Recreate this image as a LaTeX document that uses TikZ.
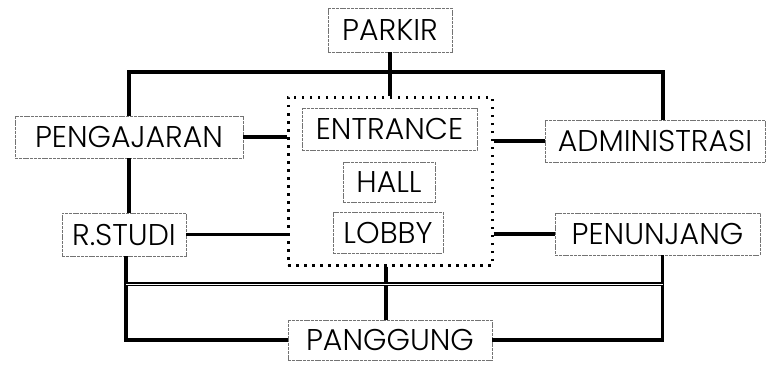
\documentclass[tikz,border=0pt]{standalone}
\usepackage{fontspec}
\setmainfont{Poppins Light}
\usepackage{tikz}
\usetikzlibrary{positioning}

\begin{document}
\begin{tikzpicture}[x=1pt, y=-1pt,
    room/.style={rectangle, draw=black!55, line width=0.7pt, dash pattern=on 3pt off 0.8pt,
        inner sep=0pt, font=\fontsize{30}{30}\selectfont},
    link/.style={line width=3.2pt, black}]
    \useasboundingbox (0,0) rectangle (779,369);
    % inti bangunan
    \node [rectangle, draw, line width=3pt, dash pattern=on 2.5pt off 5.5pt, minimum width=204pt, minimum height=168pt] (core) at (390,181) {};
    \node [room, minimum width=175pt, minimum height=42pt] (entrance) at (389.5,129) {ENTRANCE};
    \node [room, minimum width=92pt, minimum height=40pt] (hall) at (389,182) {HALL};
    \node [room, minimum width=110pt, minimum height=41pt] (lobby) at (388,233) {LOBBY};
    % ruang sekeliling
    \node [room, minimum width=124pt, minimum height=44pt] (parkir) at (390,30) {PARKIR};
    \node [room, minimum width=228pt, minimum height=42pt] (pengajaran) at (129,137) {PENGAJARAN};
    \node [room, minimum width=220pt, minimum height=42pt] (admin) at (655,141) {ADMINISTRASI};
    \node [room, minimum width=124pt, minimum height=43pt] (rstudi) at (124,234.5) {R.STUDI};
    \node [room, minimum width=205pt, minimum height=42pt] (penunjang) at (657.5,234) {PENUNJANG};
    \node [room, minimum width=204pt, minimum height=40pt] (panggung) at (390,340) {PANGGUNG};
    \coordinate (jtop) at (388,72);
    \coordinate (jleft) at (126,284);
    \coordinate (jright) at (663,284);

    \draw [link] (parkir) -- (core);
    \draw [link] (pengajaran.north) |- (jtop) -| ([xshift=8pt]admin.north);
    \draw [link] (pengajaran.south) -- (pengajaran.south |- rstudi.north);
    \draw [link] (pengajaran.east) -- (pengajaran.east -| core.west);
    \draw [link] (core.east |- admin.west) -- (admin.west);
    \draw [link] (rstudi.east) -- (rstudi.east -| core.west);
    \draw [link] (core.east |- penunjang.west) -- (penunjang.west);
    \draw [link] ([xshift=2pt]rstudi.south) |- (panggung.west);
    \draw [link] ([xshift=5pt]penunjang.south) |- (panggung.east);
    \draw [link] ([xshift=-4pt]core.south) -- ([xshift=-4pt]panggung.north);
    \draw [line width=1.4pt, double=white, double distance=1pt] (jleft) -- (jright);
\end{tikzpicture}
\end{document}
